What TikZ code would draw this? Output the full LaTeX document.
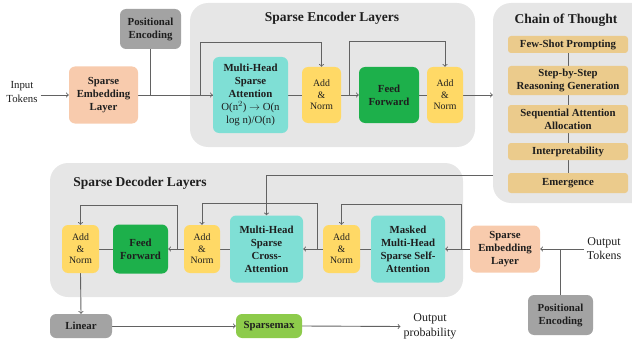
\documentclass[tikz,border=0pt]{standalone}
\usepackage{fontspec}
\setmainfont{Liberation Serif}
\usepackage{tikz}
\pgfdeclarelayer{back}
\pgfdeclarelayer{bg}
\pgfsetlayers{back,bg,main}
\definecolor{panelfill}{HTML}{E6E6E6}
\definecolor{embedfill}{HTML}{F8CBAD}
\definecolor{posfill}{HTML}{A3A3A3}
\definecolor{attnfill}{HTML}{7FDFD5}
\definecolor{addfill}{HTML}{FFD966}
\definecolor{fffill}{HTML}{1DB04B}
\definecolor{cotfill}{HTML}{EBCB8C}
\definecolor{smaxfill}{HTML}{8DCB4B}
\definecolor{ink}{HTML}{1E1E1E}
\definecolor{wire}{HTML}{626262}
\tikzset{
    box/.style={rectangle, rounded corners=6pt, align=center, inner sep=1pt, text=ink,
        font=\fontsize{10.8}{13}\selectfont\bfseries},
    embed/.style={box, fill=embedfill},
    posenc/.style={box, fill=posfill},
    attn/.style={box, fill=attnfill},
    addnorm/.style={box, fill=addfill, font=\fontsize{9.8}{11.5}\selectfont},
    ffwd/.style={box, fill=fffill},
    cotitem/.style={box, fill=cotfill, rounded corners=3pt, minimum width=120pt},
    panel/.style={rectangle, rounded corners=18pt, fill=panelfill},
    title/.style={text=ink, font=\fontsize{13.5}{16}\selectfont\bfseries},
    plain/.style={align=center, inner sep=3pt, text=ink},
    conn/.style={draw=wire, line width=0.9pt}
}

\begin{document}
\begin{tikzpicture}[x=1pt, y=-1pt]
        \useasboundingbox (0, 0) rectangle (632, 345);
        \begin{pgfonlayer}{back}
                \node (enc) [panel, minimum width=285pt, minimum height=144pt] at (332.5, 75) {};
                \node (cot) [panel, minimum width=157pt, minimum height=200pt] at (571.5, 103) {};
                \node (dec) [panel, minimum width=413pt, minimum height=134pt] at (256.5, 230) {};
        \end{pgfonlayer}
        % encoder
        \node (enctitle) [title] at (332, 18) {Sparse Encoder Layers};
        \node (intok) [plain, font=\fontsize{10.8}{14}\selectfont] at (22, 92) {Input\\Tokens};
        \node (emb1) [embed, minimum width=69pt, minimum height=57pt] at (103.5, 95) {Sparse\\Embedding\\Layer};
        \node (pos1) [posenc, minimum width=61pt, minimum height=40pt] at (150.5, 29) {Positional\\Encoding};
        \node (mha) [attn, minimum width=75pt, minimum height=76pt] at (250.5, 95) {Multi-Head\\Sparse\\Attention\\{\mdseries O(n$^2$) $\rightarrow$ O(n}\\{\mdseries log n)/O(n)}};
        \node (an1) [addnorm, minimum width=39pt, minimum height=56pt] at (321.5, 95) {Add\\\&\\Norm};
        \node (ff1) [ffwd, minimum width=60pt, minimum height=56pt] at (389, 95) {Feed\\Forward};
        \node (an2) [addnorm, minimum width=36pt, minimum height=56pt] at (445, 95) {Add\\\&\\Norm};
        \coordinate (s1) at (200, 95);
        \coordinate (s2) at (349, 95);
        % chain of thought
        \node (cottitle) [title] at (566, 20) {Chain of Thought};
        \node (c1) [cotitem, minimum height=17pt] at (568, 44.5) {Few-Shot Prompting};
        \node (c2) [cotitem, minimum height=29pt] at (568, 80.5) {Step-by-Step\\Reasoning Generation};
        \node (c3) [cotitem, minimum height=28pt] at (568, 119) {Sequential Attention\\Allocation};
        \node (c4) [cotitem, minimum height=17pt] at (568, 151.5) {Interpretability};
        \node (c5) [cotitem, minimum height=20pt] at (568, 183) {Emergence};
        \coordinate (cotout) at (493, 175);
        % decoder
        \node (dectitle) [title] at (140, 183) {Sparse Decoder Layers};
        \node (an3) [addnorm, minimum width=37pt, minimum height=48pt] at (80.5, 249) {Add\\\&\\Norm};
        \node (ff2) [ffwd, minimum width=55pt, minimum height=49pt] at (140.5, 249) {Feed\\Forward};
        \node (an4) [addnorm, minimum width=36pt, minimum height=48pt] at (202, 249) {Add\\\&\\Norm};
        \node (xattn) [attn, minimum width=73pt, minimum height=67pt] at (266.5, 249) {Multi-Head\\Sparse\\Cross-\\Attention};
        \node (an5) [addnorm, minimum width=37pt, minimum height=48pt] at (341.5, 249) {Add\\\&\\Norm};
        \node (mattn) [attn, minimum width=74pt, minimum height=67pt] at (408, 249) {Masked\\Multi-Head\\Sparse Self-\\Attention};
        \node (emb2) [embed, minimum width=70pt, minimum height=47pt] at (505, 249) {Sparse\\Embedding\\Layer};
        \node (outtok) [plain, font=\fontsize{12}{14}\selectfont] at (604, 249) {Output\\Tokens};
        \node (pos2) [posenc, minimum width=65pt, minimum height=40pt] at (560.5, 315) {Positional\\Encoding};
        \node (lin) [posenc, minimum width=62pt, minimum height=24pt] at (81, 326) {Linear};
        \node (smax) [box, fill=smaxfill, minimum width=66pt, minimum height=24pt] at (269, 326) {Sparsemax};
        \node (oprob) [plain, font=\fontsize{12}{15}\selectfont] at (430, 326.5) {Output\\probability};
        \coordinate (b3) at (177, 249);
        \coordinate (b4) at (317, 249);
        \coordinate (b5) at (461, 249);
        \begin{pgfonlayer}{bg}
        \begin{scope}[every path/.style={conn}]
                \draw (intok.east |- emb1.west) edge [->] (emb1.west);
                \draw (emb1.east) edge (mha.west);
                \draw (s1) edge [->] (mha.west);
                \draw (pos1.south) -- (pos1.south |- emb1.east);
                \draw [->] (s1) -- ++(0, -53) -| (an1.north);
                \draw (mha.east) edge (an1.west);
                \draw (an1.east) edge [->] (ff1.west);
                \draw [->] (s2) -- ++(0, -54) -| (an2.north);
                \draw (ff1.east) edge (an2.west);
                \draw (an2.east) edge [->] (an2.east -| cot.west);
                \draw (c1) edge (c2);
                \draw (c2) edge (c3);
                \draw (c3) edge (c4);
                \draw (c4) edge (c5);
                \draw [->] (cotout) -| (xattn.north);
                \draw (outtok.west) edge [->] (emb2.east);
                \draw (pos2.north) -- (pos2.north |- emb2.east);
                \draw (emb2.west) edge [->] (mattn.east);
                \draw [->] (b5) -- ++(0, -45) -| (an5.north);
                \draw (mattn.west) edge (an5.east);
                \draw (an5.west) edge [->] (xattn.east);
                \draw [->] (b4) -- ++(0, -46) -| (an4.north);
                \draw (xattn.west) edge (an4.east);
                \draw (an4.west) edge [->] (ff2.east);
                \draw [->] (b3) -- ++(0, -44) -| (an3.north);
                \draw (ff2.west) edge (an3.east);
                \draw (an3.south) edge [->] (lin.north);
                \draw (lin.east) edge [->] (smax.west);
                \draw (smax.east) edge [->] (oprob.west);
        \end{scope}
        \end{pgfonlayer}
\end{tikzpicture}
\end{document}
